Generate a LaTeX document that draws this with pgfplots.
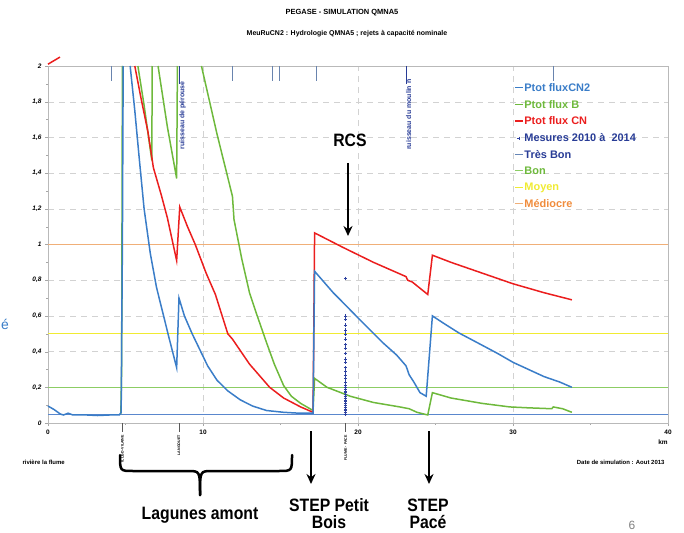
\documentclass[border=0pt]{standalone}
\usepackage{pgfplots}
\pgfplotsset{compat=1.18}
\usepackage{fontspec}
\setmainfont{Liberation Sans}
\newfontfamily\annfont{Liberation Sans}[FakeStretch=0.88]
\usetikzlibrary{arrows.meta}

\definecolor{cnb}{RGB}{58,125,200}
\definecolor{cng}{RGB}{110,185,60}
\definecolor{cnr}{RGB}{235,30,30}
\definecolor{mes}{RGB}{45,65,160}
\definecolor{tbon}{RGB}{90,135,205}
\definecolor{bon}{RGB}{140,205,100}
\definecolor{moy}{RGB}{240,235,50}
\definecolor{med}{RGB}{240,175,120}
\definecolor{medt}{RGB}{240,140,60}
\definecolor{txtdb}{RGB}{40,60,150}

\pgfplotsset{
  markleg/.style={legend image code/.code={\draw[##1] plot coordinates {(4bp,0bp)};}},
}
\tikzset{ann/.style={font=\annfont\bfseries\fontsize{18}{20}\selectfont, anchor=base, inner sep=0pt}}

\begin{document}
\begin{tikzpicture}[x=1bp,y=1bp]
\useasboundingbox (0,0) rectangle (684,-533);

% titles
\node[font=\bfseries\fontsize{7.5}{8}\selectfont] at (342,-13) {PEGASE - SIMULATION QMNA5};
\node[font=\bfseries\fontsize{7}{8}\selectfont] at (347,-34) {MeuRuCN2 : Hydrologie QMNA5 ; rejets à capacité nominale};

\begin{axis}[
    at={(48bp,-423bp)}, anchor=south west,
    scale only axis, width=620bp, height=357bp,
    xmin=0, xmax=40, ymin=0, ymax=2,
    clip=false,
    unbounded coords=jump,
    axis line style={gray!55},
    xtick={0,10,20,30,40}, minor xtick={5,15,25,35},
    ytick={0,0.2,0.4,0.6,0.8,1,1.2,1.4,1.6,1.8,2},
    minor ytick={0.1,0.3,0.5,0.7,0.9,1.1,1.3,1.5,1.7,1.9},
    xtick pos=bottom, ytick pos=left,
    tick align=outside,
    major tick length=3bp, minor tick length=2bp,
    tick style={gray!70},
    grid=major, grid style={dashed, gray!35, dash pattern=on 6bp off 5bp},
    /pgf/number format/.cd, use comma, fixed, assume math mode=true,
    /pgfplots/.cd,
    ticklabel style={font=\bfseries\itshape\fontsize{6.5}{7}\selectfont},
    xticklabel style={font=\bfseries\fontsize{6.5}{7}\selectfont},
    legend style={at={(0.747,0.96)}, anchor=north west, draw=none, fill=none,
        font=\bfseries\fontsize{11}{12}\selectfont, row sep=5.2bp,
        nodes={inner sep=1bp},
        /tikz/every even column/.append style={column sep=3.5bp}},
    legend cell align=left,
    legend image code/.code={\draw[#1,line width=1.1pt] (0bp,0.5bp) -- (8bp,0.5bp);},
]

% quality thresholds
\addplot[tbon, line width=0.9bp, forget plot] coordinates {(0,0.05)(40,0.05)};
\addplot[bon, line width=0.9bp, forget plot] coordinates {(0,0.2)(40,0.2)};
\addplot[moy, line width=0.9bp, forget plot] coordinates {(0,0.5)(40,0.5)};
\addplot[med, line width=0.9bp, forget plot] coordinates {(0,1)(40,1)};

% Ptot flux B
\addplot[cng, line width=1.5bp, forget plot] coordinates {
(4.7,0.05)(4.75,0.3)(4.8,2.0)(5.0,nan)
(5.8,2.0)(6.2,1.78)(6.7,1.47)(6.72,2.0)(6.9,nan)
(7.1,2.0)(7.7,1.66)(8.3,1.37)(8.35,2.0)(9,nan)
(9.9,2.0)(10.9,1.62)(11.9,1.27)(12.0,1.14)(12.5,0.92)(13.0,0.73)(13.5,0.6)
(14.1,0.45)(14.6,0.33)(15.2,0.21)(15.7,0.15)(16.3,0.11)(17.1,0.07)
(17.2,0.25)(18,0.2)(19.5,0.15)(21,0.115)(22.7,0.09)(23.3,0.08)(23.8,0.06)(24.5,0.045)
(24.8,0.17)(26,0.14)(28,0.11)(29.8,0.09)(31,0.085)(32.5,0.08)(32.6,0.09)(33.2,0.08)(33.8,0.06)
};

% Ptot flux CN
\addplot[cnr, line width=1.5bp, forget plot] coordinates {
(0,2.01)(0.77,2.05)(1,nan)
(5.6,2.0)(6.0,1.82)(6.45,1.63)(6.8,1.43)(7.3,1.28)(7.7,1.15)(8.3,0.91)
(8.5,1.21)(9.0,1.10)(9.5,1.0)(10.2,0.84)(10.8,0.72)(11.6,0.5)(11.9,0.47)
(13.0,0.33)(14.3,0.2)(15.2,0.14)(16.3,0.09)(17.1,0.06)
(17.2,1.065)(19,0.985)(21,0.9)(23.1,0.82)(23.2,0.80)(23.5,0.79)(24.5,0.72)
(24.8,0.94)(26,0.90)(28,0.84)(30,0.78)(32,0.73)(33.8,0.69)
};

% Ptot fluxCN2
\addplot[cnb, line width=1.5bp, forget plot] coordinates {
(0,0.095)(0.4,0.075)(0.8,0.05)(1.0,0.045)(1.3,0.055)(1.6,0.045)(2.5,0.045)
(3.2,0.042)(4.0,0.045)(4.6,0.045)(4.72,0.06)(4.8,1.0)(4.85,2.0)(5.0,nan)
(5.3,2.0)(5.6,1.75)(5.9,1.47)(6.2,1.2)(6.6,0.95)(7.0,0.76)(7.4,0.62)(7.8,0.48)(8.3,0.31)
(8.45,0.70)(8.8,0.6)(9.3,0.5)(9.8,0.41)(10.3,0.32)(10.9,0.24)(11.6,0.18)(12.4,0.13)
(13.2,0.095)(14.1,0.07)(15.2,0.06)(16.2,0.055)(17.1,0.055)
(17.2,0.85)(18.4,0.73)(19.2,0.66)(20.1,0.58)(21.6,0.45)(22.5,0.38)(23.1,0.32)
(23.3,0.27)(23.6,0.23)(24.0,0.17)(24.4,0.15)
(24.8,0.60)(25.5,0.56)(26.5,0.505)(27.7,0.45)(29,0.39)(30,0.34)(31,0.30)(32,0.26)(33,0.23)(33.8,0.20)
};

% Mesures 2010 a 2014
\addplot[mes, only marks, mark=+, mark size=1.8bp, forget plot] coordinates {
(19.2,0.81)(19.2,0.60)(19.2,0.58)(19.2,0.55)(19.2,0.52)(19.2,0.50)(19.2,0.47)
(19.2,0.44)(19.2,0.42)(19.2,0.39)(19.2,0.36)(19.2,0.34)(19.2,0.31)(19.2,0.29)
(19.2,0.27)(19.2,0.25)(19.2,0.23)(19.2,0.21)(19.2,0.20)(19.2,0.19)(19.2,0.18)
(19.2,0.17)(19.2,0.16)(19.2,0.15)(19.2,0.14)(19.2,0.13)(19.2,0.12)(19.2,0.11)
(19.2,0.10)(19.2,0.09)(19.2,0.08)(19.2,0.07)(19.2,0.06)(19.2,0.05)
};

% legend
\addlegendimage{cnb}\addlegendentry{\textcolor{cnb}{Ptot fluxCN2}}
\addlegendimage{cng}\addlegendentry{\textcolor{cng}{Ptot flux B}}
\addlegendimage{cnr}\addlegendentry{\textcolor{cnr}{Ptot flux CN}}
\addlegendimage{mes, only marks, mark=+, mark size=1.6bp, markleg}
\addlegendentry{\textcolor{txtdb}{Mesures 2010 à\ \ 2014}}
\addlegendimage{tbon!70!gray}\addlegendentry{\textcolor{txtdb}{Très Bon}}
\addlegendimage{bon}\addlegendentry{\textcolor{cng}{Bon}}
\addlegendimage{moy}\addlegendentry{\textcolor{moy}{Moyen}}
\addlegendimage{med}\addlegendentry{\textcolor{medt}{Médiocre}}

% tributary marks along the top
\draw[tbon!60!gray, line width=0.7bp] (axis cs:4.06,2) -- (axis cs:4.06,1.915);
\draw[tbon!60!gray, line width=0.7bp] (axis cs:11.9,2) -- (axis cs:11.9,1.915);
\draw[tbon!60!gray, line width=0.7bp] (axis cs:14.5,2) -- (axis cs:14.5,1.915);
\draw[tbon!60!gray, line width=0.7bp] (axis cs:14.9,2) -- (axis cs:14.9,1.915);
\draw[tbon!60!gray, line width=0.7bp] (axis cs:17.3,2) -- (axis cs:17.3,1.915);
\draw[tbon!60!gray, line width=0.7bp] (axis cs:32.6,2) -- (axis cs:32.6,1.915);
\draw[txtdb, line width=0.8bp] (axis cs:8.5,2) -- (axis cs:8.5,1.9);
\draw[txtdb, line width=0.8bp] (axis cs:23.1,2) -- (axis cs:23.1,1.9);
\node[rotate=90, anchor=east, txtdb, font=\bfseries\fontsize{7}{8}\selectfont, inner sep=0pt]
  at (axis cs:8.68,1.915) {ruisseau de pérouse};
\node[rotate=90, anchor=east, txtdb, font=\bfseries\fontsize{7}{8}\selectfont, inner sep=0pt]
  at (axis cs:23.27,1.925) {ruisseau du moulin n};

% outfall marks below the axis
\draw[gray!70!black, line width=0.6bp] (axis cs:4.8,0) -- ++(0,-9bp);
\draw[gray!70!black, line width=0.6bp] (axis cs:8.45,0) -- ++(0,-9bp);
\draw[gray!70!black, line width=0.6bp] (axis cs:19.2,0) -- ++(0,-9bp);
\node[rotate=90, anchor=east, inner sep=0pt, font=\bfseries\fontsize{3.6}{4}\selectfont]
  at ([yshift=-12bp]axis cs:4.8,0) {ILLE-D-VILAINE};
\node[rotate=90, anchor=east, inner sep=0pt, font=\bfseries\fontsize{3.6}{4}\selectfont]
  at ([yshift=-12bp]axis cs:8.45,0) {LANGOUET};
\node[rotate=90, anchor=east, inner sep=0pt, font=\bfseries\fontsize{3.6}{4}\selectfont]
  at ([yshift=-12bp]axis cs:19.2,0) {FLUME - PACE};
\end{axis}

% captions around the plot
\node[font=\bfseries\fontsize{6.5}{7}\selectfont] at (663,-442) {km};
\node[font=\bfseries\fontsize{6}{7}\selectfont, anchor=west] at (19,-462) {rivière la flume};
\node[font=\bfseries\fontsize{6}{7}\selectfont, anchor=east] at (668,-462) {Date de simulation : Aout 2013};
\node[text=cnb, font=\fontsize{14}{16}\selectfont] at (5,-324) {é};
\node[text=gray, font=\fontsize{12}{14}\selectfont] at (632,-525) {6};

% annotations
\node[ann] at (350,-147) {RCS};
\draw[line width=2.2bp, -{Stealth[length=10bp,width=9bp]}] (348,-163) -- (348,-236);
\draw[line width=2.2bp, -{Stealth[length=10bp,width=9bp]}] (311,-431) -- (311,-484);
\draw[line width=2.2bp, -{Stealth[length=10bp,width=9bp]}] (429,-431) -- (429,-484);
\node[ann] at (329,-511) {STEP Petit};
\node[ann] at (329,-528) {Bois};
\node[ann] at (428,-511) {STEP};
\node[ann] at (428,-528) {Pacé};
\draw[line width=2.5bp, line cap=round]
  (120,-455) .. controls (120,-471) .. (133,-471) -- (188,-471) .. controls (200,-471) .. (200,-495);
\draw[line width=2.5bp, line cap=round]
  (292,-455) .. controls (292,-471) .. (279,-471) -- (212,-471) .. controls (200,-471) .. (200,-495);
\node[ann] at (200,-519) {Lagunes amont};
\end{tikzpicture}
\end{document}
